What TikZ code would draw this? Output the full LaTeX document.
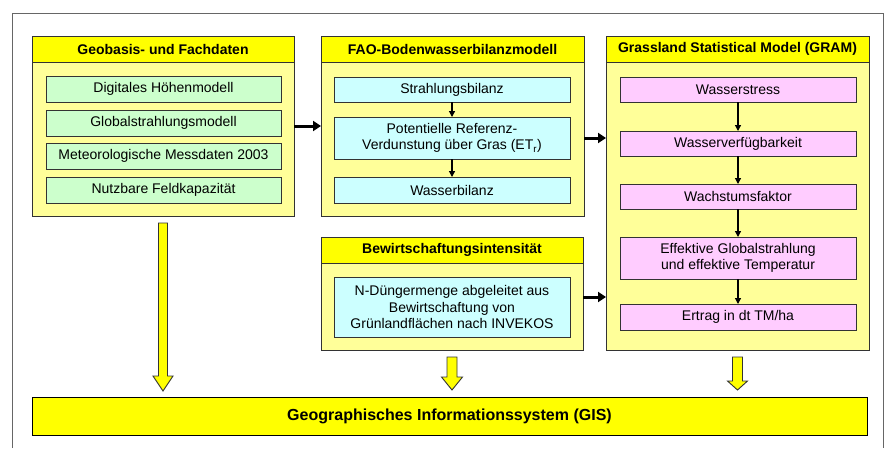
\documentclass[tikz,border=0pt]{standalone}
\usepackage{fontspec}
\setmainfont{Liberation Sans}
\usetikzlibrary{arrows.meta,calc}
\definecolor{panelY}{HTML}{FFFF99}
\definecolor{headY}{HTML}{FFFF00}
\definecolor{boxG}{HTML}{CCFFCC}
\definecolor{boxC}{HTML}{CCFFFF}
\definecolor{boxP}{HTML}{FFCCFF}
\definecolor{edge}{HTML}{333333}
\newcommand\bx[7]{\node[#2, minimum width={#5-#3}, minimum height={#6-#4}] (#1) at ({(#3+#5)/2},{(#4+#6)/2}) {#7};}
\begin{document}
\begin{tikzpicture}[x=1pt,y=-1pt,
  every node/.style={inner sep=0pt, outer sep=0pt, align=center, font=\fontsize{14}{16.5}\selectfont},
  panel/.style={draw=edge, line width=0.9pt, fill=panelY},
  header/.style={draw=edge, line width=0.9pt, fill=headY, font=\fontsize{14}{16.5}\selectfont\bfseries},
  gbox/.style={draw=edge, line width=0.9pt, fill=boxG},
  cbox/.style={draw=edge, line width=0.9pt, fill=boxC},
  pbox/.style={draw=edge, line width=0.9pt, fill=boxP},
  gisbox/.style={draw=black, line width=0.9pt, fill=headY, font=\fontsize{16}{18}\selectfont\bfseries},
  smallarr/.style={line width=1.3pt, -{Triangle[length=6pt,width=6pt]}},
  bigarr/.style={line width=3pt, -{Triangle[length=8pt,width=10pt]}},
  blockarr/.style={draw=edge, line width=0.9pt, fill=headY, line join=miter}]
\useasboundingbox (0,0) rectangle (890,448);
\fill[white] (0,0) rectangle (890,448);
\draw[gray!80!black, line width=1pt] (12,448) -- (12,13) -- (883,13) -- (883,448);

% Panel 1
\bx{p1}{panel}{32}{36}{294}{216}{}
\bx{h1}{header}{32}{36}{294}{62}{Geobasis- und Fachdaten}
\bx{g1}{gbox}{46}{76}{281}{102}{Digitales Höhenmodell}
\bx{g2}{gbox}{46}{110}{281}{136}{Globalstrahlungsmodell}
\bx{g3}{gbox}{46}{143}{281}{169}{Meteorologische Messdaten 2003}
\bx{g4}{gbox}{46}{177}{281}{203}{Nutzbare Feldkapazität}

% Panel 2
\bx{p2}{panel}{321}{36}{584}{216}{}
\bx{h2}{header}{321}{36}{584}{62}{FAO-Bodenwasserbilanzmodell}
\bx{c1}{cbox}{334}{77}{570}{102}{Strahlungsbilanz}
\bx{c2}{cbox}{334}{117}{570}{159}{Potentielle Referenz-\\Verdunstung über Gras (ET\textsubscript{r})}
\bx{c3}{cbox}{334}{177}{570}{203}{Wasserbilanz}
\draw[smallarr] (c1) -- (c2);
\draw[smallarr] (c2) -- (c3);

% Panel 3
\bx{p3}{panel}{606}{36}{869}{350}{}
\bx{h3}{header}{606}{36}{869}{62}{Grassland Statistical Model (GRAM)}
\bx{r1}{pbox}{620}{77}{856}{102}{Wasserstress}
\bx{r2}{pbox}{620}{131}{856}{156}{Wasserverfügbarkeit}
\bx{r3}{pbox}{620}{184}{856}{209}{Wachstumsfaktor}
\bx{r4}{pbox}{620}{237}{856}{279}{Effektive Globalstrahlung\\und effektive Temperatur}
\bx{r5}{pbox}{620}{304}{856}{330}{Ertrag in dt TM/ha}
\draw[smallarr] (r1) -- (r2);
\draw[smallarr] (r2) -- (r3);
\draw[smallarr] (r3) -- (r4);
\draw[smallarr] (r4) -- (r5);

% Panel 4
\bx{p4}{panel}{321}{237}{583}{350}{}
\bx{h4}{header}{321}{237}{583}{263}{Bewirtschaftungsintensität}
\bx{n1}{cbox}{334}{277}{570}{337}{N-Düngermenge abgeleitet aus\\Bewirtschaftung von\\Grünlandflächen nach INVEKOS}

% GIS
\bx{gis}{gisbox}{32}{397}{867}{435}{Geographisches Informationssystem (GIS)}

% panel connectors
\draw[bigarr] (p1.east) -- (p2.west);
\draw[bigarr] (p2.east |- c2) -- (p3.west |- c2);
\draw[bigarr] ([yshift=-3.5pt]p4.east) -- ([yshift=-3.5pt]p4.east -| p3.west);

% block arrows to GIS
\draw[blockarr] let \p1=([yshift=-7pt]p1.south), \p2=([yshift=6pt]p1.south |- gis.north) in
  (\x1-4.5pt,\y1) -- (\x1+4.5pt,\y1) -- (\x1+4.5pt,\y2+15pt) -- (\x1+10pt,\y2+15pt)
  -- (\x1,\y2) -- (\x1-10pt,\y2+15pt) -- (\x1-4.5pt,\y2+15pt) -- cycle;
\draw[blockarr] let \p1=([yshift=-7pt]p4.south), \p2=([yshift=7pt]p4.south |- gis.north) in
  (\x1-5pt,\y1) -- (\x1+5pt,\y1) -- (\x1+5pt,\y2+13pt) -- (\x1+10.5pt,\y2+13pt)
  -- (\x1,\y2) -- (\x1-10.5pt,\y2+13pt) -- (\x1-5pt,\y2+13pt) -- cycle;
\draw[blockarr] let \p1=([yshift=-7pt]p3.south), \p2=([yshift=7pt]p3.south |- gis.north) in
  (\x1-5pt,\y1) -- (\x1+5pt,\y1) -- (\x1+5pt,\y2+9pt) -- (\x1+10pt,\y2+9pt)
  -- (\x1,\y2) -- (\x1-10pt,\y2+9pt) -- (\x1-5pt,\y2+9pt) -- cycle;
\end{tikzpicture}
\end{document}
